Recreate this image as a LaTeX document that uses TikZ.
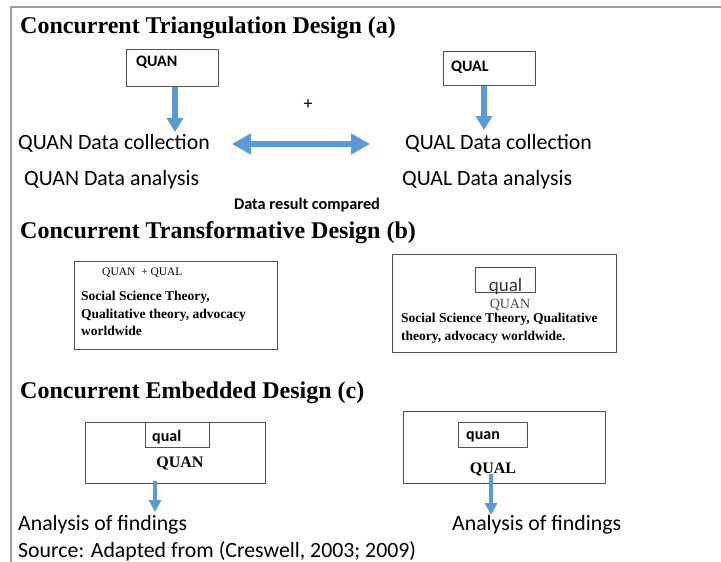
\documentclass[tikz,border=0pt]{standalone}
\usepackage{fontspec}
\setmainfont{Liberation Serif}
\newfontfamily\calfont{Carlito}
\usetikzlibrary{arrows.meta}
\definecolor{flowblue}{HTML}{5B9BD5}
\definecolor{framegray}{HTML}{9C9C9C}
\definecolor{boxgray}{HTML}{555555}
\definecolor{softtext}{HTML}{444444}

\tikzset{
  heading/.style={anchor=west, inner sep=0pt, font=\fontsize{24}{24}\selectfont\bfseries},
  body/.style={anchor=west, inner sep=0pt, font=\calfont\fontsize{21.8}{22}\selectfont},
  tag/.style={anchor=west, inner sep=0pt, font=\calfont\fontsize{16}{16}\selectfont\bfseries},
  serifnote/.style={anchor=west, inner sep=0pt, align=left, font=\fontsize{13.5}{17.5}\selectfont\bfseries},
  box/.style={draw=boxgray, line width=1.1pt, rectangle, inner sep=0pt, anchor=north west},
  flow/.style={draw=flowblue, line width=5.5pt, -{Triangle[width=16pt,length=14pt]}},
  thinflow/.style={draw=flowblue, line width=4pt, -{Triangle[width=12pt,length=12pt]}},
  twoway/.style={draw=flowblue, line width=6pt, {Triangle[width=20pt,length=19pt]}-{Triangle[width=20pt,length=19pt]}}
}

\begin{document}
\begin{tikzpicture}[x=1pt,y=-1pt]
\useasboundingbox (0,0) rectangle (721,562);

% outer frame (left and top edges)
\draw[framegray, line width=2pt] (11,562) -- (11,7) -- (721,7);

% ---------- (a) Concurrent Triangulation Design ----------
\node[heading] (ta) at (20,28) {Concurrent Triangulation Design (a)};

\node[box, minimum width=92pt, minimum height=37pt] (quanA) at (126,49) {};
\node[tag] (quanAt) at (136,62) {QUAN};
\node[box, minimum width=92pt, minimum height=34pt] (qualA) at (443,51) {};
\node[tag] (qualAt) at (451,67) {QUAL};

\node[inner sep=0pt, font=\calfont\fontsize{18}{18}\selectfont] (plus) at (308,105) {+};

\node[body] (quancoll) at (18,143) {QUAN Data collection};
\node[body] (qualcoll) at (405,143) {QUAL Data collection};
\node[body] (quanana) at (24,180) {QUAN Data analysis};
\node[body] (qualana) at (402,180) {QUAL Data analysis};

\coordinate (quanAend) at (175,132);
\coordinate (qualAend) at (484,130);
\draw[flow] (quanA.south -| quanAend) -- (quanAend);
\draw[flow] (qualA.south -| qualAend) -- (qualAend);

\draw[twoway] ([xshift=22pt,yshift=-1pt]quancoll.east) -- ([xshift=-35pt,yshift=-1pt]qualcoll.west);

\node[inner sep=0pt, font=\calfont\fontsize{16.3}{16}\selectfont\bfseries] (compared) at (307,205) {Data result compared};

% ---------- (b) Concurrent Transformative Design ----------
\node[heading] (tb) at (20,233) {Concurrent Transformative Design (b)};

\node[box, minimum width=203pt, minimum height=88pt] (b1) at (74,261) {};
\node[anchor=west, inner sep=0pt, font=\fontsize{11.5}{12}\selectfont] (b1head) at (102,273) {QUAN\ \ + QUAL};
\node[serifnote, anchor=north west] (b1text) at (81,291) {Social Science Theory,\\Qualitative theory, advocacy\\worldwide};

\node[box, minimum width=60pt, minimum height=25pt] (b2in) at (475,267) {};
\node[box, minimum width=224pt, minimum height=98pt] (b2) at (392,254) {};
\node[anchor=base, inner sep=0pt, font=\calfont\fontsize{19}{19}\selectfont, text=black!80] (b2qual) at ([yshift=2pt]b2in.south) {qual};
\node[anchor=north, inner sep=0pt, font=\fontsize{14}{14}\selectfont, text=softtext] (b2quan) at (510,299) {QUAN};
\node[serifnote, anchor=north west] (b2text) at (401,313) {Social Science Theory, Qualitative\\theory, advocacy worldwide.};

% ---------- (c) Concurrent Embedded Design ----------
\node[heading] (tc) at (20,393) {Concurrent Embedded Design (c)};

\node[box, minimum width=180pt, minimum height=61pt] (c1) at (85,422) {};
\node[box, minimum width=64pt, minimum height=25pt] (c1in) at (145,422) {};
\node[tag] (c1qual) at (152,437) {qual};
\node[inner sep=0pt, font=\fontsize{16}{16}\selectfont\bfseries] (c1quan) at (180,463) {QUAN};

\node[box, minimum width=202pt, minimum height=72pt] (c2) at (403,411) {};
\node[box, minimum width=69pt, minimum height=25pt] (c2in) at (458,422) {};
\node[tag] (c2quan) at (466,437) {quan};
\node[inner sep=0pt, font=\fontsize{16}{16}\selectfont\bfseries] (c2qual) at (493,469) {QUAL};

\node[body] (find1) at (18,525) {Analysis of findings};
\node[body] (find2) at (452,525) {Analysis of findings};
\node[body] (source) at (18,551) {Source: Adapted from (Creswell, 2003; 2009)};

\coordinate (c1end) at (155,512);
\coordinate (c2start) at (491,474);
\coordinate (c2end) at (491,515);
\draw[thinflow] ([yshift=3pt]c1.south -| c1end) -- (c1end);
\draw[thinflow] (c2start) -- (c2end);
\end{tikzpicture}
\end{document}
